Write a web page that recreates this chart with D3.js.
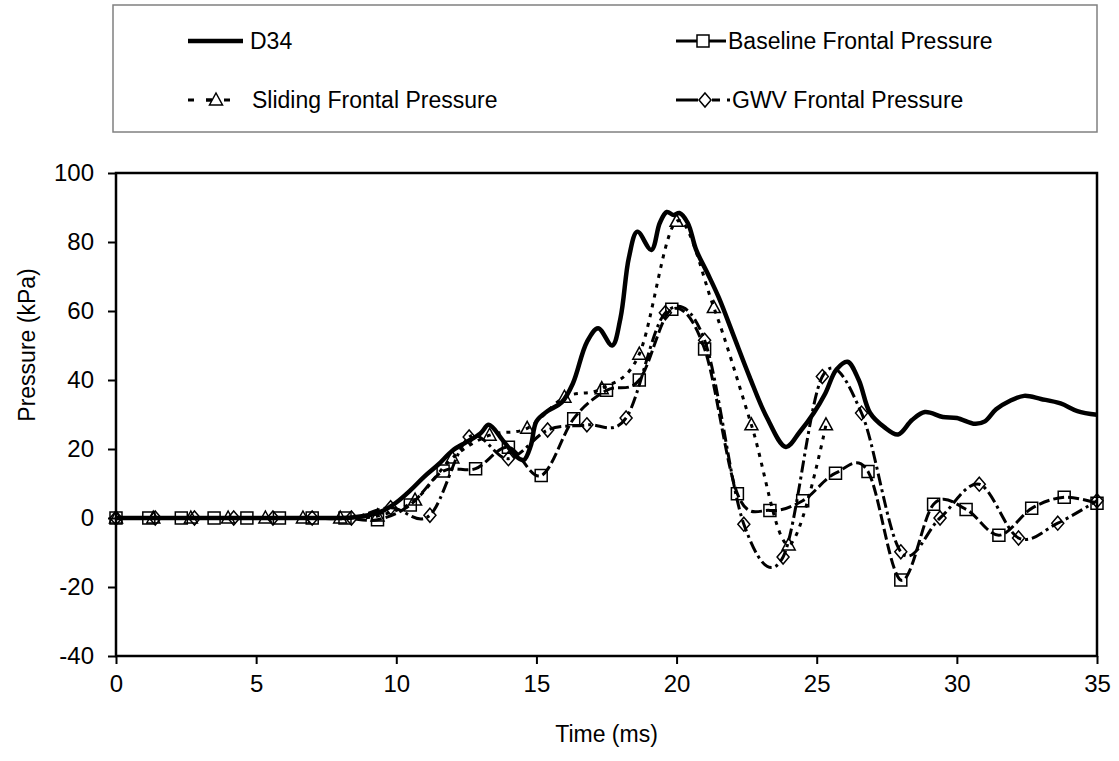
<!DOCTYPE html>
<html>
<head>
<meta charset="utf-8">
<script src="https://cdn.jsdelivr.net/npm/d3@7"></script>
<style>
  html, body { margin: 0; padding: 0; background: #fff; }
  svg text { font-family: "Liberation Sans", Arial, sans-serif; fill: #000; }
</style>
</head>
<body>
<svg id="chart" width="1119" height="761"></svg>
<script>
// ---------- data ----------
const d34Time = [0, 1, 2, 3, 4, 5, 6, 7, 8, 8.5, 9, 9.5, 10, 10.5, 11, 11.5, 12, 12.5, 13, 13.3, 13.8, 14.3, 14.55, 14.8, 15.0, 15.4, 15.9, 16.3, 16.8, 17.2, 17.7, 18.0, 18.3, 18.6, 19.1, 19.4, 19.65, 19.9, 20.1, 20.4, 20.7, 21.1, 21.5, 22.0, 22.6, 23.2, 23.9, 24.4, 24.9, 25.3, 25.7, 26.1, 26.5, 26.9, 27.4, 27.9, 28.4, 28.86, 29.5, 30.0, 30.65, 31.0, 31.4, 31.9, 32.4, 33.0, 33.7, 34.3, 35];
const d34Pressure = [0, 0, 0, 0, 0, 0, 0, 0, 0, 0.2, 0.8, 2, 4.5, 8, 12, 15.5, 19.5, 22, 24.5, 27, 22.5, 17.7, 16.8, 21, 28, 31, 33.5, 39, 51, 55, 50, 58, 75.5, 83, 77.7, 85.5, 88.7, 87.8, 88.4, 85.5, 77.7, 71, 64, 53.6, 41, 29.5, 20.6, 25, 30.5, 36, 43, 45.3, 40, 30.5, 26.4, 24.2, 28.4, 30.7, 29.3, 29, 27.3, 28, 31.5, 34, 35.4, 34.5, 33.2, 31, 29.9, 29.8];

const baselineTime = [0, 1.17, 2.33, 3.5, 4.67, 5.83, 7, 8.17, 9.33, 10.5, 11.67, 12.83, 14, 15.17, 16.33, 17.5, 18.67, 19.83, 21, 22.17, 23.33, 24.5, 25.67, 26.83, 28, 29.17, 30.33, 31.5, 32.67, 33.83, 35];
const baselinePressure = [0, 0, 0, 0, 0, 0, 0, 0, -0.5, 3.8, 13.6, 14.3, 20.5, 12.3, 28.8, 37, 40, 60.5, 49, 7, 2.2, 5, 13, 13.5, -18, 4, 2.5, -5, 2.8, 6, 4.3];

const slidingTime = [0, 1.33, 2.67, 4, 5.33, 6.67, 8, 9.33, 10.67, 12, 13.33, 14.67, 16, 17.33, 18.67, 20, 21.33, 22.67, 24, 25.33];
const slidingPressure = [0, 0, 0, 0, 0, 0, 0, 0.6, 5.2, 17.4, 24, 26, 35, 37.5, 47.5, 86, 61, 27, -7.8, 27];

const gwvTime = [0, 1.4, 2.8, 4.2, 5.6, 7, 8.4, 9.8, 11.2, 12.6, 14, 15.4, 16.8, 18.2, 19.6, 21, 22.4, 23.8, 25.2, 26.6, 28, 29.4, 30.8, 32.2, 33.6, 35];
const gwvPressure = [0, 0, 0, 0, 0, 0, 0, 3, 0.8, 23.5, 17.2, 25.5, 27, 29, 59.5, 51.5, -1.8, -11.3, 41, 30.4, -9.8, 0, 9.8, -5.8, -1.5, 5];

const xTicks = [0, 5, 10, 15, 20, 25, 30, 35];
const yTicks = [-40, -20, 0, 20, 40, 60, 80, 100];
const seriesNames = ["D34", "Baseline Frontal Pressure", "Sliding Frontal Pressure", "GWV Frontal Pressure"];
const xTitle = "Time (ms)";
const yTitle = "Pressure (kPa)";

// ---------- layout ----------
const svg = d3.select("#chart");
const L = 116, R = 1097, T = 173, B = 656;
const x = d3.scaleLinear().domain([0, 35]).range([L, R]);
const y = d3.scaleLinear().domain([-40, 100]).range([B, T]);

const zip = (t, p) => t.map((v, i) => [v, p[i]]);

// ---------- axes ----------
const yAxis = svg.append("g").attr("transform", `translate(${L},0)`)
  .call(d3.axisLeft(y).tickValues(yTicks).tickFormat(d => String(d)).tickSize(8).tickPadding(14).tickSizeOuter(0));
const xAxis = svg.append("g").attr("transform", `translate(0,${B})`)
  .call(d3.axisBottom(x).tickValues(xTicks).tickFormat(d => String(d)).tickSize(8).tickPadding(11).tickSizeOuter(0));
[xAxis, yAxis].forEach(g => {
  g.select(".domain").remove();
  g.selectAll(".tick line").attr("stroke", "#000").attr("stroke-width", 2);
  g.selectAll(".tick text").attr("font-size", 24).attr("font-family", "Liberation Sans, Arial, sans-serif");
});

// plot frame
svg.append("rect").attr("x", L).attr("y", T).attr("width", R - L).attr("height", B - T)
  .attr("fill", "none").attr("stroke", "#000").attr("stroke-width", 2.5);

// axis titles
svg.append("text").attr("x", (L + R) / 2).attr("y", 742).attr("text-anchor", "middle")
  .attr("font-size", 23).text(xTitle);
svg.append("text").attr("transform", "translate(35,345) rotate(-90)").attr("text-anchor", "middle")
  .attr("font-size", 23).text(yTitle);

// ---------- series ----------
const lineSmooth = d3.line().x(d => x(d[0])).y(d => y(d[1])).curve(d3.curveCardinal.tension(0));
const lineD34 = d3.line().x(d => x(d[0])).y(d => y(d[1])).curve(d3.curveCatmullRom.alpha(0.5));

const plot = svg.append("g");

const series = [
  { key: "base", data: zip(baselineTime, baselinePressure), dash: "11,4", marker: "square" },
  { key: "slide", data: zip(slidingTime, slidingPressure), dash: "4,6", marker: "triangle" },
  { key: "gwv", data: zip(gwvTime, gwvPressure), dash: "12,4,3,4", marker: "diamond" }
];

function markerPath(type) {
  if (type === "square") return "M-6,-6H6V6H-6Z";
  if (type === "triangle") return "M0,-7L6.5,5H-6.5Z";
  return "M0,-7L6,0L0,7L-6,0Z";
}

series.forEach(s => {
  plot.append("path").datum(s.data).attr("d", lineSmooth)
    .attr("fill", "none").attr("stroke", "#000").attr("stroke-width", 3)
    .attr("stroke-dasharray", s.dash);
});

plot.append("path").datum(zip(d34Time, d34Pressure)).attr("d", lineD34)
  .attr("fill", "none").attr("stroke", "#000").attr("stroke-width", 4.5)
  .attr("stroke-linejoin", "round");

series.forEach(s => {
  plot.selectAll(null).data(s.data).enter().append("path")
    .attr("transform", d => `translate(${x(d[0])},${y(d[1])})`)
    .attr("d", markerPath(s.marker))
    .attr("fill", "none").attr("stroke", "#000").attr("stroke-width", 1.5);
});

// ---------- legend ----------
const lg = svg.append("g");
lg.append("rect").attr("x", 113).attr("y", 5).attr("width", 984).attr("height", 127)
  .attr("fill", "#fff").attr("stroke", "#808080").attr("stroke-width", 1.5);

// D34
lg.append("line").attr("x1", 188).attr("x2", 243).attr("y1", 41).attr("y2", 41)
  .attr("stroke", "#000").attr("stroke-width", 4.5);
// Baseline
lg.append("line").attr("x1", 676).attr("x2", 726).attr("y1", 41).attr("y2", 41)
  .attr("stroke", "#000").attr("stroke-width", 3);
lg.append("path").attr("transform", "translate(703,41)").attr("d", markerPath("square"))
  .attr("fill", "#fff").attr("stroke", "#000").attr("stroke-width", 1.5);
// Sliding
lg.append("line").attr("x1", 188).attr("x2", 236).attr("y1", 100).attr("y2", 100)
  .attr("stroke", "#000").attr("stroke-width", 3).attr("stroke-dasharray", "6,12");
lg.append("line").attr("x1", 206).attr("x2", 212).attr("y1", 100).attr("y2", 100)
  .attr("stroke", "#000").attr("stroke-width", 3);
lg.append("path").attr("transform", "translate(216,100)").attr("d", markerPath("triangle"))
  .attr("fill", "#fff").attr("stroke", "#000").attr("stroke-width", 1.5);
// GWV
lg.append("line").attr("x1", 676).attr("x2", 698).attr("y1", 100).attr("y2", 100)
  .attr("stroke", "#000").attr("stroke-width", 3);
lg.append("line").attr("x1", 712).attr("x2", 720).attr("y1", 100).attr("y2", 100)
  .attr("stroke", "#000").attr("stroke-width", 3);
lg.append("line").attr("x1", 727).attr("x2", 730).attr("y1", 100).attr("y2", 100)
  .attr("stroke", "#000").attr("stroke-width", 3);
lg.append("path").attr("transform", "translate(705,100)").attr("d", markerPath("diamond"))
  .attr("fill", "#fff").attr("stroke", "#000").attr("stroke-width", 1.5);

const legendText = [
  { x: 250, y: 41, t: seriesNames[0] },
  { x: 728, y: 41, t: seriesNames[1] },
  { x: 252, y: 100, t: seriesNames[2] },
  { x: 732, y: 100, t: seriesNames[3] }
];
lg.selectAll(null).data(legendText).enter().append("text")
  .attr("x", d => d.x).attr("y", d => d.y).attr("dy", "0.35em")
  .attr("font-size", 23).text(d => d.t);
</script>
</body>
</html>
